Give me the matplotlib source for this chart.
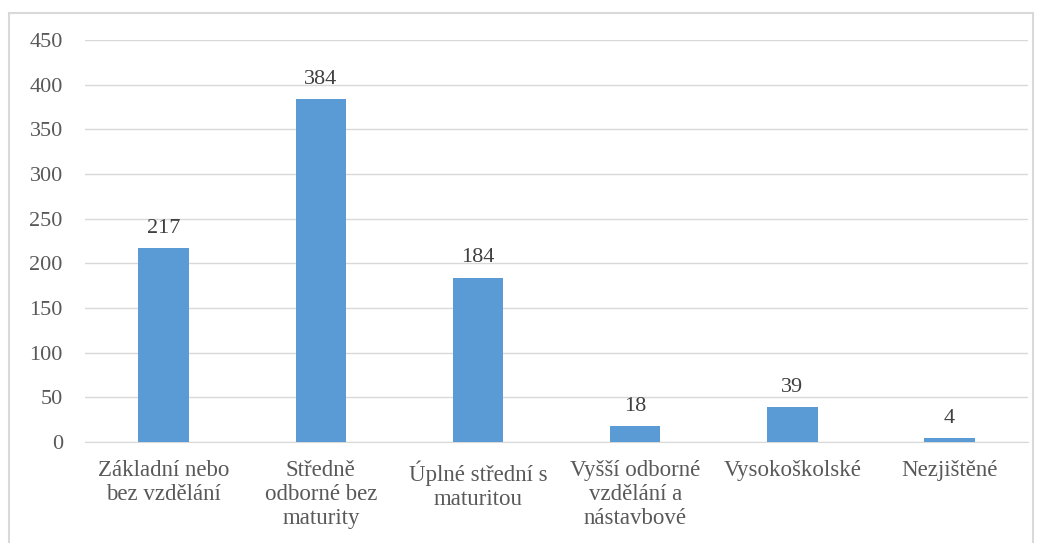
import matplotlib.pyplot as plt
from matplotlib.patches import Rectangle

# data
categories = ["Základní nebo\nbez vzdělání", "Středně\nodborné bez\nmaturity",
              "Úplné střední s\nmaturitou", "Vyšší odborné\nvzdělání a\nnástavbové",
              "Vysokoškolské", "Nezjištěné"]
values = [217, 384, 184, 18, 39, 4]
yticks = list(range(0, 451, 50))

plt.rcParams['font.family'] = ['Liberation Serif', 'DejaVu Serif']
text_color = '#595959'

fig = plt.figure(figsize=(10.46, 5.43), dpi=100)
ax = fig.add_axes([0.0813, 0.186, 0.9017, 0.740])

x = list(range(len(categories)))
ax.bar(x, values, width=0.32, color='#5B9BD5', zorder=3)

for xi, v in zip(x, values):
    ax.annotate(str(v), (xi, v), xytext=(0, 7.5), textcoords='offset points',
                ha='center', va='bottom', fontsize=16, color='#404040')

ax.set_xlim(-0.5, len(categories) - 0.5)
ax.set_ylim(0, 450)
ax.set_yticks(yticks)
ax.set_xticks(x)
ax.set_xticklabels(categories, fontsize=16.5, color=text_color, linespacing=1.2)
ax.tick_params(axis='y', length=0, pad=16, labelsize=16, labelcolor=text_color)
ax.tick_params(axis='x', length=0, pad=13)
ax.grid(axis='y', color='#D9D9D9', linewidth=1, zorder=0)
for s in ['top', 'right', 'left']:
    ax.spines[s].set_visible(False)
ax.spines['bottom'].set_color('#D9D9D9')

# outer frame
fig.patches.append(Rectangle((9 / 1046, -0.05), 1024 / 1046, 1 - 13 / 543 + 0.05,
                             transform=fig.transFigure, fill=False,
                             edgecolor='#D9D9D9', linewidth=1.5))

fig.savefig('out.png', dpi=100)
